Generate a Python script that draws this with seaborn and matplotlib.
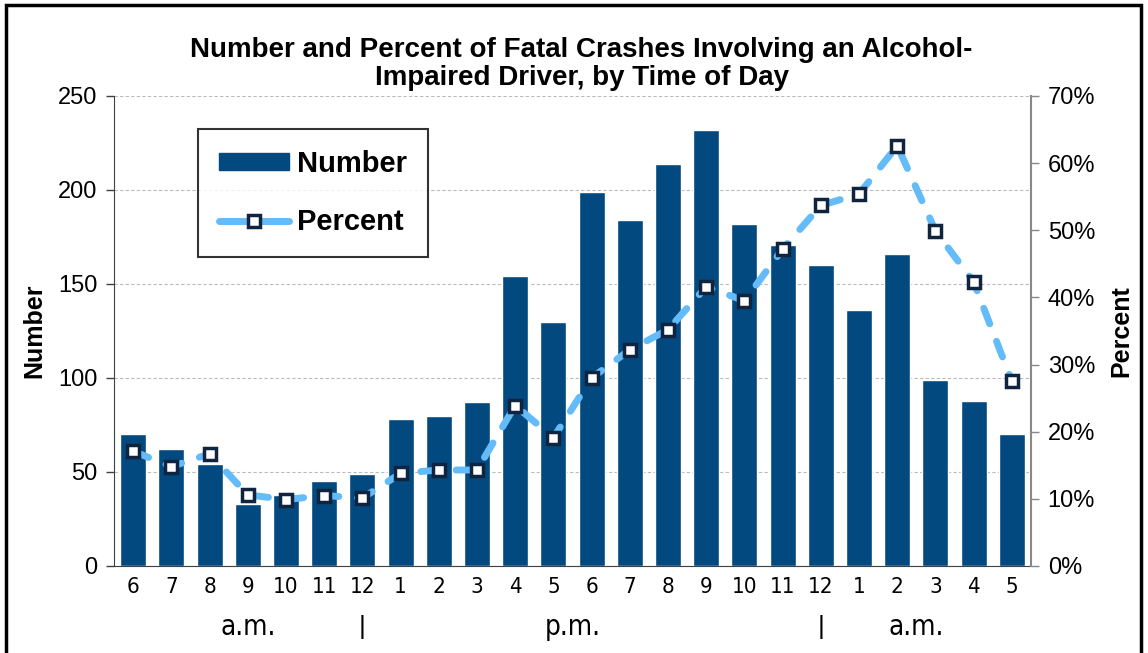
import matplotlib
matplotlib.use("Agg")
import matplotlib.pyplot as plt
import matplotlib.patches as mpatches
from matplotlib.lines import Line2D
from matplotlib.ticker import FuncFormatter, MultipleLocator
import seaborn as sns
import pandas as pd
import numpy as np

# hour of day, 6 a.m. through 5 a.m.
hour_labels = ["6", "7", "8", "9", "10", "11", "12", "1", "2", "3", "4", "5",
               "6", "7", "8", "9", "10", "11", "12", "1", "2", "3", "4", "5"]
number = [70, 62, 54, 33, 38, 45, 49, 78, 80, 87, 154, 130,
          199, 184, 214, 232, 182, 171, 160, 136, 166, 99, 88, 70]
percent = [17.1, 14.8, 16.7, 10.6, 9.9, 10.5, 10.1, 13.8, 14.3, 14.3, 23.9, 19.1,
           28.0, 32.2, 35.2, 41.6, 39.5, 47.2, 53.7, 55.4, 62.6, 49.9, 42.3, 27.5]
period_labels = ["a.m.", "p.m.", "a.m."]

bar_color = "#02497F"
line_color = "#63BBF9"
marker_edge = "#10233F"

sns.set_style("white")
plt.rcParams["font.family"] = ["Liberation Sans", "DejaVu Sans"]
for key in ["text.color", "axes.labelcolor", "xtick.color", "ytick.color"]:
    plt.rcParams[key] = "black"

df = pd.DataFrame({"pos": np.arange(len(number)), "number": number, "percent": percent})

fig = plt.figure(figsize=(11.48, 6.53), dpi=100)
ax = fig.add_axes([114 / 1148, 1 - 566 / 653, (1031 - 114) / 1148, (566 - 96) / 653])

sns.barplot(data=df, x="pos", y="number", color=bar_color, saturation=1,
            width=0.68, ax=ax, zorder=2)
ax.set_xlim(-0.5, len(number) - 0.5)
ax.set_ylim(0, 250)
ax.yaxis.set_major_locator(MultipleLocator(50))
ax.grid(axis="y", color="#BBBBBB", linestyle=(0, (3, 2)), linewidth=0.8, zorder=0)
ax.set_axisbelow(True)

# category labels under bars, ticks on boundaries
ax.set_xticks(df["pos"])
ax.set_xticklabels(hour_labels, family="DejaVu Sans", stretch="condensed", fontsize=16)
ax.tick_params(axis="x", length=0, pad=8)
ax.set_xticks(np.arange(-0.5, len(number)), minor=True)
ax.tick_params(axis="x", which="minor", length=6, width=1, color="#404040", direction="out")
ax.tick_params(axis="y", length=6, width=1, color="#404040", direction="out", labelsize=17, pad=6)
ax.set_xlabel("")
ax.set_ylabel("Number", fontsize=18, fontweight="bold", labelpad=8)
for side in ["top", "right"]:
    ax.spines[side].set_visible(False)
ax.spines["left"].set_color("#404040")
ax.spines["bottom"].set_color("#404040")

ax2 = ax.twinx()
sns.lineplot(data=df, x="pos", y="percent", ax=ax2, color=line_color, linewidth=5,
             marker="s", markersize=9, markerfacecolor="white",
             markeredgecolor=marker_edge, markeredgewidth=2.5, zorder=3)
ax2.lines[0].set_dashes((2.4, 2.7))
ax2.lines[0].set_dash_capstyle("round")
ax2.set_ylim(0, 70)
ax2.set_xlim(-0.5, len(number) - 0.5)
ax2.yaxis.set_major_locator(MultipleLocator(10))
ax2.yaxis.set_major_formatter(FuncFormatter(lambda v, p: f"{v:.0f}%"))
ax2.tick_params(axis="y", length=6, width=1, color="#888888", direction="out", labelsize=17, pad=6)
ax2.set_ylabel("Percent", fontsize=18, fontweight="bold", labelpad=10)
ax2.set_xlabel("")
for side in ["top", "left", "bottom"]:
    ax2.spines[side].set_visible(False)
ax2.spines["right"].set_color("#888888")
ax2.spines["right"].set_linewidth(1.5)

# a.m. / p.m. row
trans = ax.get_xaxis_transform()
for xpos, lab in zip([3, 11.5, 20.5], period_labels):
    ax.text(xpos, -0.13, lab, transform=trans, ha="center", va="center",
            family="DejaVu Sans", stretch="condensed", fontsize=20, clip_on=False)
for xpos in [6, 18]:
    ax.text(xpos, -0.13, "|", transform=trans, ha="center", va="center",
            fontsize=19, clip_on=False)

ax.set_title("Number and Percent of Fatal Crashes Involving an Alcohol-\nImpaired Driver, by Time of Day",
             fontsize=20, fontweight="bold", pad=8, linespacing=1.1, x=0.51)

handles = [mpatches.Patch(color=bar_color),
           Line2D([0], [0], color=line_color, linewidth=5, linestyle="-",
                  marker="s", markersize=8, markerfacecolor="white",
                  markeredgecolor=marker_edge, markeredgewidth=2.5)]
leg = ax.legend(handles, ["Number", "Percent"], loc="upper left",
                bbox_to_anchor=(0.076, 0.96), frameon=True, fancybox=False,
                prop={"weight": "bold", "size": 21}, handlelength=2.4,
                handleheight=0.55, borderpad=0.7, labelspacing=1.05, handletextpad=0.3)
leg.get_frame().set_edgecolor("black")
leg.get_frame().set_linewidth(1.5)
leg.set_zorder(5)

# outer border
fig.patches.append(mpatches.Rectangle((6 / 1148, -0.02), 1135 / 1148, 1 - 5 / 653 + 0.02,
                                      transform=fig.transFigure, fill=False,
                                      edgecolor="black", linewidth=2.5))

fig.savefig("out.png", dpi=100)
